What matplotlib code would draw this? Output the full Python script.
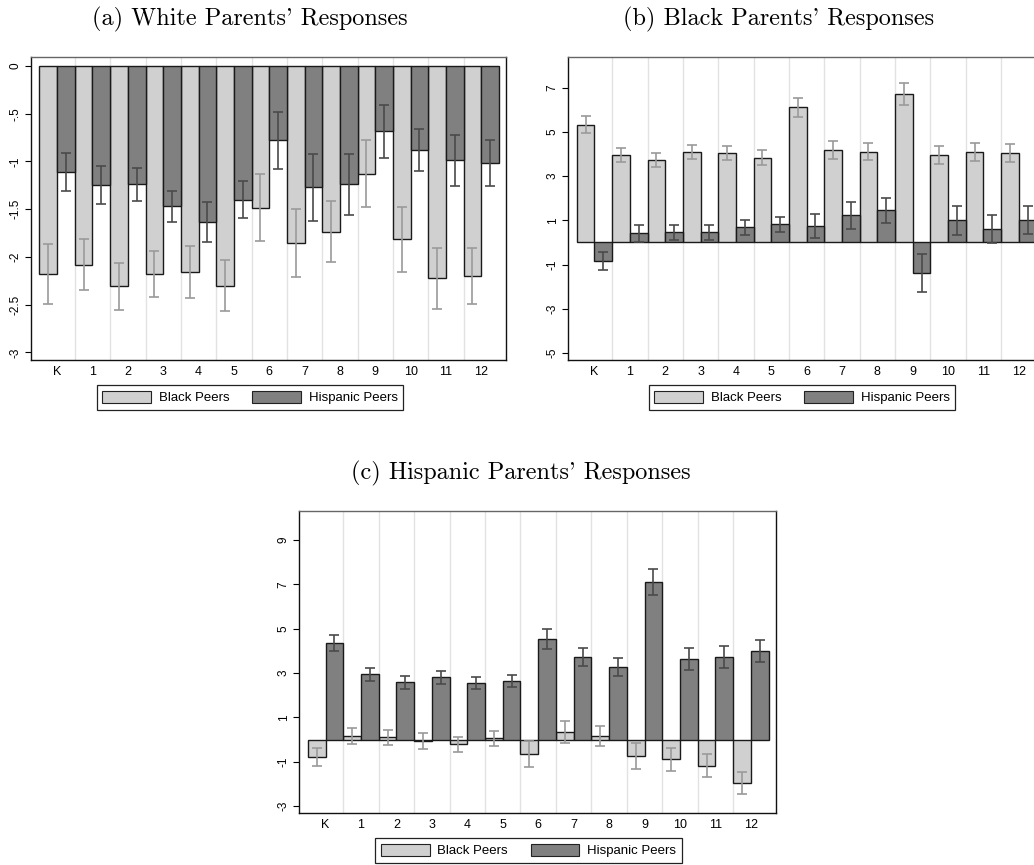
import numpy as np
import matplotlib
matplotlib.use("Agg")
import matplotlib.pyplot as plt
from matplotlib.patches import Patch

plt.rcParams['font.family'] = ['Liberation Sans', 'DejaVu Sans']

# grades on the x axis
grades = ["K", "1", "2", "3", "4", "5", "6", "7", "8", "9", "10", "11", "12"]

# (a) White parents: estimates and CI half-widths
white_black = [-2.18, -2.08, -2.31, -2.18, -2.16, -2.30, -1.485, -1.855, -1.735, -1.13, -1.815, -2.225, -2.20]
white_black_ci = [0.31, 0.27, 0.245, 0.24, 0.27, 0.27, 0.35, 0.36, 0.32, 0.35, 0.34, 0.32, 0.29]
white_hisp = [-1.11, -1.25, -1.24, -1.47, -1.63, -1.40, -0.78, -1.27, -1.24, -0.685, -0.88, -0.99, -1.02]
white_hisp_ci = [0.20, 0.20, 0.17, 0.165, 0.21, 0.19, 0.30, 0.35, 0.32, 0.28, 0.22, 0.27, 0.24]

# (b) Black parents
black_black = [5.33, 3.97, 3.73, 4.10, 4.06, 3.84, 6.12, 4.19, 4.11, 6.71, 3.96, 4.08, 4.06]
black_black_ci = [0.39, 0.32, 0.32, 0.32, 0.32, 0.33, 0.44, 0.40, 0.38, 0.50, 0.41, 0.40, 0.40]
black_hisp = [-0.82, 0.41, 0.46, 0.46, 0.69, 0.82, 0.73, 1.24, 1.46, -1.38, 1.00, 0.62, 1.02]
black_hisp_ci = [0.41, 0.38, 0.35, 0.34, 0.33, 0.33, 0.54, 0.61, 0.57, 0.87, 0.65, 0.63, 0.65]

# (c) Hispanic parents
hisp_black = [-0.78, 0.16, 0.10, -0.07, -0.22, 0.05, -0.65, 0.34, 0.16, -0.745, -0.90, -1.18, -1.95]
hisp_black_ci = [0.40, 0.36, 0.33, 0.37, 0.34, 0.34, 0.58, 0.51, 0.43, 0.60, 0.50, 0.53, 0.50]
hisp_hisp = [4.34, 2.94, 2.58, 2.81, 2.54, 2.63, 4.55, 3.74, 3.29, 7.10, 3.62, 3.71, 4.00]
hisp_hisp_ci = [0.36, 0.29, 0.28, 0.30, 0.28, 0.27, 0.45, 0.41, 0.41, 0.59, 0.50, 0.49, 0.50]

W, H = 1034, 865
LIGHT, DARK = "#d0d0d0", "#808080"

fig = plt.figure(figsize=(W / 100, H / 100), dpi=100)


def px_axes(x0, top, x1, bottom):
    return fig.add_axes([x0 / W, 1 - bottom / H, (x1 - x0) / W, (bottom - top) / H])


def draw_panel(ax, light, light_ci, dark, dark_ci, ylim, yticks, ylabels):
    x = np.arange(len(grades))
    for g in x[:-1]:
        ax.axvline(g + 0.5, color="#e2e2e2", lw=1.0, zorder=0)
    ax.bar(x - 0.25, light, width=0.5, color=LIGHT, edgecolor="#1a1a1a", lw=1.0, zorder=2)
    ax.bar(x + 0.25, dark, width=0.5, color=DARK, edgecolor="#1a1a1a", lw=1.0, zorder=2)
    ax.errorbar(x - 0.25, light, yerr=light_ci, fmt="none", ecolor="#9a9a9a",
                elinewidth=1.2, capsize=3.5, capthick=1.2, zorder=3)
    ax.errorbar(x + 0.25, dark, yerr=dark_ci, fmt="none", ecolor="#4a4a4a",
                elinewidth=1.2, capsize=3.5, capthick=1.2, zorder=3)
    ax.set_xlim(-0.74, 12.7)
    ax.set_ylim(*ylim)
    ax.set_xticks(x)
    ax.set_xticklabels(grades, fontsize=9)
    ax.tick_params(axis="x", length=0, pad=4)
    ax.set_yticks(yticks)
    ax.set_yticklabels(ylabels, fontsize=8.5, rotation=90, va="center")
    ax.tick_params(axis="y", length=4, width=0.8, pad=3)
    for s in ax.spines.values():
        s.set_linewidth(1.0)
        s.set_color("#111111")
    ax.spines["top"].set_color("#666666")


def draw_legend(cx, cy):
    handles = [Patch(facecolor=LIGHT, edgecolor="#222222", lw=0.8),
               Patch(facecolor=DARK, edgecolor="#222222", lw=0.8)]
    leg = fig.legend(handles, ["Black Peers", "Hispanic Peers"], loc="center",
                     bbox_to_anchor=(cx / W, 1 - cy / H), ncol=2, fontsize=9.5,
                     frameon=True, fancybox=False, edgecolor="#222222", framealpha=1,
                     handlelength=3.7, handleheight=1.0, handletextpad=0.6,
                     columnspacing=1.7, borderpad=0.42, borderaxespad=0)
    leg.get_frame().set_linewidth(0.9)


def title(cx, cy, text):
    fig.text(cx / W, 1 - cy / H, text, ha="center", va="center",
             family="cmr10", fontsize=17.5)


ax_a = px_axes(31, 57.3, 506, 360)
draw_panel(ax_a, white_black, white_black_ci, white_hisp, white_hisp_ci,
           (-3.08, 0.091), [0, -0.5, -1, -1.5, -2, -2.5, -3],
           ["0", "-.5", "-1", "-1.5", "-2", "-2.5", "-3"])

ax_b = px_axes(568.3, 57.3, 1043.5, 360)
draw_panel(ax_b, black_black, black_black_ci, black_hisp, black_hisp_ci,
           (-5.32, 8.38), [-5, -3, -1, 1, 3, 5, 7],
           ["-5", "-3", "-1", "1", "3", "5", "7"])

ax_c = px_axes(299.3, 510.7, 775.7, 813.3)
draw_panel(ax_c, hisp_black, hisp_black_ci, hisp_hisp, hisp_hisp_ci,
           (-3.33, 10.33), [-3, -1, 1, 3, 5, 7, 9],
           ["-3", "-1", "1", "3", "5", "7", "9"])

title(249.5, 19, "(a) White Parents' Responses")
title(779, 19, "(b) Black Parents' Responses")
title(520.5, 473, "(c) Hispanic Parents' Responses")

draw_legend(250, 397.5)
draw_legend(802, 397.5)
draw_legend(528.5, 850.7)

fig.savefig("out.png", dpi=100)
